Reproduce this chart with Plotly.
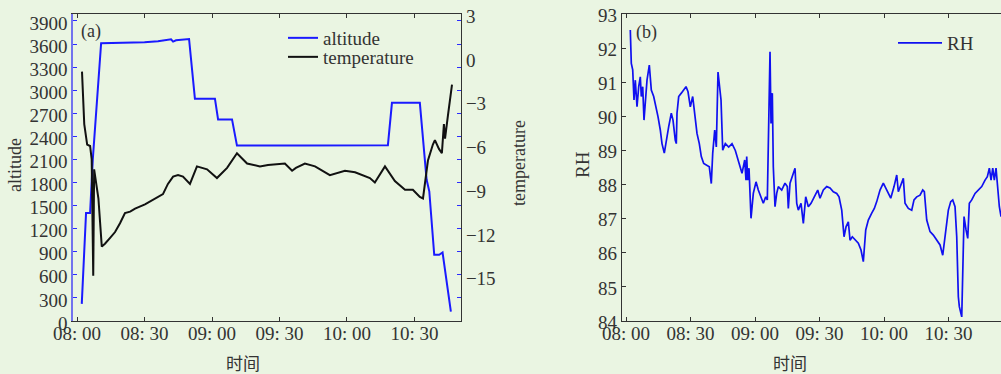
import pandas as pd
import plotly.graph_objects as go

BASE = pd.Timestamp("2020-01-01 08:00:00")

# ---------------- panel (a) data (minutes after 08:00) ----------------
alt_min = [2.1, 3.2, 4.0, 5.8, 7.0, 10.7, 20.0, 30.0, 36.0, 41.8, 42.7, 44.0, 49.8,
           52.4, 61.3, 62.7, 68.9, 71.1, 100.0, 138.2, 140.0, 152.4, 155.4, 156.6,
           158.8, 161.0, 162.5, 166.2]
alt_m = [222, 850, 1404, 1404, 2100, 3610, 3612, 3622, 3635, 3662, 3632, 3648, 3665,
         2890, 2890, 2620, 2620, 2280, 2280, 2285, 2835, 2835, 1838, 1686,
         860, 860, 890, 121]

temp_min = [2.2, 3.2, 4.5, 5.8, 6.5, 7.0, 7.2, 7.6, 9.5, 11.0, 12.4, 14.7, 16.9, 19.1,
            21.3, 23.6, 25.8, 30.2, 34.7, 38.2, 40.4, 42.7, 44.9, 47.1, 50.2, 53.3,
            57.8, 62.2, 66.7, 71.1, 75.6, 81.3, 84.9, 92.4, 95.6, 97.3, 101.3, 105.8,
            112.4, 119.1, 123.6, 130.2, 132.4, 136.9, 141.3, 145.8, 149.3, 152.4,
            153.8, 156.0, 158.2, 159.1, 160.9, 162.2, 163.1, 163.6, 164.9, 166.7]
temp_c = [-0.8, -4.4, -5.8, -5.9, -6.8, -14.8, -14.8, -7.5, -9.5, -12.8, -12.6, -12.2,
          -11.8, -11.2, -10.5, -10.4, -10.2, -9.9, -9.5, -9.2, -8.5, -8.0, -7.9, -8.0,
          -8.5, -7.3, -7.5, -8.1, -7.4, -6.4, -7.1, -7.3, -7.2, -7.1, -7.6, -7.4, -7.1,
          -7.3, -7.9, -7.6, -7.7, -8.1, -8.4, -7.3, -8.3, -8.9, -8.9, -9.4, -9.5, -6.9,
          -5.8, -5.5, -6.1, -6.4, -4.4, -5.4, -3.8, -1.7]

alt_ticks = list(range(0, 4000, 300))
temp_ticks = list(range(-18, 4, 3))

# ---------------- panel (b) data ----------------
rh_min = [2.00, 2.47, 3.12, 3.72, 4.33, 5.12, 5.91, 6.65, 7.12, 7.77, 8.37, 8.98, 9.77,
          10.84, 11.77, 12.88, 13.63, 14.88, 15.95, 16.74, 17.81, 18.74, 19.86, 21.07,
          21.86, 22.93, 23.40, 23.72, 24.51, 25.72, 26.84, 27.91, 28.84, 29.91, 31.02,
          31.95, 33.02, 34.09, 35.02, 36.14, 37.67, 38.74, 39.67, 40.33, 41.26, 42.00,
          42.79, 43.58, 44.19, 44.98, 46.19, 47.77, 49.30, 50.84, 52.42, 53.95, 55.21,
          55.81, 56.14, 56.60, 57.21, 58.14, 59.21, 60.47, 61.53, 62.79, 63.86, 64.98,
          65.72, 66.51, 66.98, 67.44, 68.05, 68.51, 69.30, 70.09, 70.84, 72.42, 73.95,
          75.02, 75.49, 76.28, 77.35, 78.61, 79.40, 80.14, 81.40, 82.47, 83.58, 84.79,
          86.05, 87.58, 89.16, 90.23, 91.77, 93.35, 94.88, 96.42, 98.00, 99.07, 100.33,
          101.40, 102.33, 103.40, 104.19, 105.26, 106.51, 108.05, 109.30, 110.37,
          111.49, 112.70, 114.28, 115.49, 116.61, 118.14, 119.67, 121.26, 123.12,
          124.65, 125.91, 126.65, 128.23, 128.98, 129.77, 131.30, 132.88, 133.95,
          135.21, 136.74, 138.00, 138.75, 139.86, 141.40, 142.93, 144.51, 146.05,
          147.30, 148.37, 149.91, 151.02, 151.95, 153.02, 153.81, 154.56, 155.02,
          156.14, 156.61, 157.21, 158.14, 158.93, 159.67, 160.79, 162.33, 163.86,
          165.44, 166.98, 168.05, 168.98, 169.77, 170.56, 171.30, 172.09, 172.88,
          173.63, 174.42]
rh_val = [92.53, 91.55, 91.36, 90.48, 91.06, 90.28, 90.87, 91.16, 90.58, 90.87, 89.89,
          90.38, 91.06, 91.5, 90.77, 90.58, 90.38, 89.99, 89.6, 89.2, 88.92, 89.3, 89.7,
          90.09, 89.89, 89.3, 89.2, 90.09, 90.58, 90.68, 90.77, 90.87, 90.72, 90.28,
          90.58, 90.09, 89.5, 89.2, 88.82, 88.62, 88.57, 88.52, 88.03, 88.92, 89.6,
          89.1, 91.3, 90.87, 90.48, 89.01, 89.2, 89.1, 89.2, 89.0, 88.62, 88.33, 88.72,
          88.13, 88.82, 88.13, 88.48, 87.01, 87.74, 88.08, 87.84, 87.64, 87.45, 87.64,
          87.55, 90.28, 91.89, 89.79, 90.68, 88.52, 87.35, 87.74, 87.94, 87.84, 88.04,
          87.94, 87.30, 88.04, 88.23, 88.48, 87.45, 87.25, 87.45, 86.86, 87.64, 87.35,
          87.45, 87.64, 87.84, 87.6, 87.84, 87.94, 87.9, 87.79, 87.74, 87.64, 87.25,
          86.47, 86.76, 86.91, 86.37, 86.47, 86.37, 86.28, 86.08, 85.74, 86.67, 86.96,
          87.16, 87.3, 87.5, 87.84, 88.04, 87.84, 87.6, 87.94, 88.28, 87.79, 88.04,
          88.18, 87.45, 87.3, 87.25, 87.55, 87.64, 87.69, 87.84, 87.79, 86.96, 86.62,
          86.52, 86.37, 86.23, 85.93, 86.47, 87.25, 87.5, 87.55, 87.35, 86.47, 84.71,
          84.42, 84.12, 85.49, 87.06, 86.67, 86.42, 87.45, 87.55, 87.74, 87.84, 87.94,
          88.13, 88.23, 88.48, 88.13, 88.48, 88.13, 88.48, 87.74, 87.35, 87.06]

rh_ticks = list(range(84, 94))


def to_time(mins):
    return [BASE + pd.Timedelta(minutes=m) for m in mins]


BG = "#EAF5E2"
TXT = "#333333"
SERIF = "Liberation Serif, Times New Roman, serif"
CJK = "Noto Sans CJK SC"
TICKFONT = dict(family=SERIF, size=19, color=TXT)
LEGFONT = dict(family=SERIF, size=19, color=TXT)

fig = go.Figure()

fig.add_trace(go.Scatter(x=to_time(alt_min), y=alt_m, mode="lines", name="altitude",
                         line=dict(color="#1a1aff", width=2), xaxis="x", yaxis="y",
                         legend="legend"))
fig.add_trace(go.Scatter(x=to_time(temp_min), y=temp_c, mode="lines", name="temperature",
                         line=dict(color="#111111", width=2), xaxis="x", yaxis="y2",
                         legend="legend3"))
# carrier for the mirrored blue ticks on the right side of panel (a)
fig.add_trace(go.Scatter(x=to_time(alt_min), y=alt_m, mode="lines", showlegend=False,
                         line=dict(color="rgba(0,0,0,0)", width=0), hoverinfo="skip",
                         xaxis="x", yaxis="y3"))
fig.add_trace(go.Scatter(x=to_time(rh_min), y=rh_val, mode="lines", name="RH",
                         line=dict(color="#1010f0", width=1.7), xaxis="x2", yaxis="y4",
                         legend="legend2"))

ydom = [(374 - 321) / 374, (374 - 14) / 374]
xa_common = dict(type="date", tick0=BASE, dtick=1800000, tickformat="%H: %M",
                 ticks="inside", ticklen=4, tickcolor=TXT, showline=True, linecolor=TXT,
                 linewidth=1.2, mirror="ticks", showgrid=False, zeroline=False,
                 tickfont=TICKFONT, automargin=False, ticklabelstandoff=-5)

fig.update_layout(
    width=1001, height=374,
    margin=dict(l=0, r=0, t=0, b=0, autoexpand=False),
    paper_bgcolor=BG, plot_bgcolor=BG,
    xaxis=dict(domain=[73 / 1001, 461 / 1001], anchor="y",
               range=[BASE + pd.Timedelta(minutes=-1.8), BASE + pd.Timedelta(minutes=170.7)],
               **xa_common),
    yaxis=dict(domain=ydom, anchor="x", range=[0, 3990], tickvals=alt_ticks,
               ticks="inside", ticklen=4, tickcolor="#2b2bff", showline=True,
               linecolor="#7272ee", linewidth=1.5, showgrid=False, zeroline=False,
               tickfont=TICKFONT, automargin=False, ticklabelshift=2),
    yaxis2=dict(overlaying="y", side="right", anchor="x", range=[-17.9, 3.15],
                tickvals=temp_ticks, ticks="", showline=True, linecolor=TXT,
                linewidth=1.2, showgrid=False, zeroline=False, tickfont=TICKFONT,
                automargin=False),
    yaxis3=dict(overlaying="y", side="right", anchor="x", range=[0, 3990],
                tickvals=alt_ticks, ticks="inside", ticklen=4, tickcolor="#2b2bff",
                showticklabels=False, showline=False, showgrid=False, zeroline=False,
                automargin=False),
    xaxis2=dict(domain=[622 / 1001, 1.0], anchor="y4",
                range=[BASE + pd.Timedelta(minutes=-1.86), BASE + pd.Timedelta(minutes=174.4)],
                **xa_common),
    yaxis4=dict(domain=ydom, anchor="x2", range=[84, 93], tickvals=rh_ticks,
                ticks="inside", ticklen=4, tickcolor=TXT, showline=True, linecolor=TXT,
                linewidth=1.2, showgrid=False, zeroline=False, tickfont=TICKFONT,
                automargin=False, ticklabelshift=1),
    legend=dict(x=283 / 1001, y=1 - 19 / 374, xanchor="left", yanchor="top",
                bgcolor="rgba(0,0,0,0)", font=LEGFONT),
    legend3=dict(x=283 / 1001, y=1 - 38 / 374, xanchor="left", yanchor="top",
                 bgcolor="rgba(0,0,0,0)", font=LEGFONT),
    legend2=dict(x=893 / 1001, y=1 - 24 / 374, xanchor="left", yanchor="top",
                 bgcolor="rgba(0,0,0,0)", font=LEGFONT, itemwidth=44),
    showlegend=True,
)

ann = dict(xref="paper", yref="paper", showarrow=False, xanchor="center", yanchor="middle")
fig.add_annotation(x=15 / 1001, y=1 - 165 / 374, text="altitude", textangle=-90,
                   font=dict(family=SERIF, size=18, color=TXT), **ann)
fig.add_annotation(x=519 / 1001, y=1 - 163 / 374, text="temperature", textangle=-90,
                   font=dict(family=SERIF, size=18, color=TXT), **ann)
fig.add_annotation(x=243 / 1001, y=1 - 362 / 374, text="时间",
                   font=dict(family=CJK, size=17, color=TXT), **ann)
fig.add_annotation(x=582 / 1001, y=1 - 165 / 374, text="RH", textangle=-90,
                   font=dict(family=SERIF, size=19, color=TXT), **ann)
fig.add_annotation(x=790 / 1001, y=1 - 362 / 374, text="时间",
                   font=dict(family=CJK, size=17, color=TXT), **ann)
fig.add_annotation(x=91 / 1001, y=1 - 31 / 374, text="(a)",
                   font=dict(family=SERIF, size=18, color=TXT), **ann)
fig.add_annotation(x=646 / 1001, y=1 - 32 / 374, text="(b)",
                   font=dict(family=SERIF, size=18, color=TXT), **ann)

fig.write_html("out.html", post_script="document.body.style.margin='0';",
               config={"displayModeBar": False})
